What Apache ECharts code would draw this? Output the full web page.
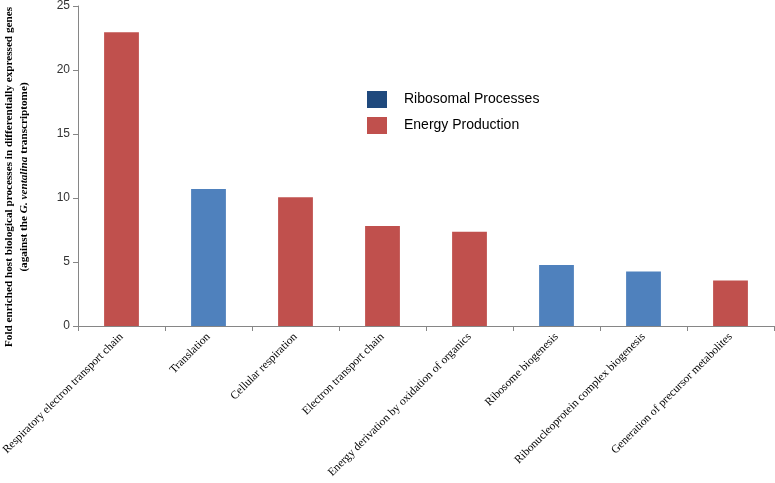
<!DOCTYPE html>
<html>
<head>
<meta charset="utf-8">
<script src="https://cdn.jsdelivr.net/npm/echarts@6/dist/echarts.min.js"></script>
<style>
  html, body { margin: 0; padding: 0; background: #fff; }
  #chart { width: 775px; height: 483px; }
</style>
</head>
<body>
<div id="chart"></div>
<script>
// --- Data ---
const categories = [
    'Respiratory electron transport chain',
    'Translation',
    'Cellular respiration',
    'Electron transport chain',
    'Energy derivation by oxidation of organics',
    'Ribosome biogenesis',
    'Ribonucleoprotein complex biogenesis',
    'Generation of precursor metabolites'
];
const foldValues = [22.95, 10.7, 10.05, 7.82, 7.37, 4.76, 4.26, 3.55];
const groups = ['E', 'R', 'E', 'E', 'E', 'R', 'R', 'E'];
const yTicks = [0, 5, 10, 15, 20, 25];

const RED = '#C0504D';
const BLUE = '#4F81BD';

const riboData = foldValues.map((v, i) => groups[i] === 'R' ? v : null);
const energyData = foldValues.map((v, i) => groups[i] === 'E' ? v : null);

// --- Render ---
const chart = echarts.init(document.getElementById('chart'));
chart.setOption({
    animation: false,
    grid: { left: 78, right: 1, top: 6, bottom: 157, outerBoundsMode: 'none', containLabel: false },
    legend: {
        orient: 'vertical',
        left: 362,
        top: 86,
        itemWidth: 20,
        itemHeight: 17,
        itemGap: 9,
        icon: 'rect',
        textStyle: {
            fontFamily: 'Liberation Sans',
            fontSize: 14,
            color: '#000',
            padding: [0, 0, 0, 12]
        },
        data: [
            { name: 'Ribosomal Processes', itemStyle: { color: '#1F497D' } },
            { name: 'Energy Production', itemStyle: { color: RED } }
        ]
    },
    xAxis: {
        type: 'category',
        data: categories,
        axisLine: { lineStyle: { color: '#868686' } },
        axisTick: { show: true, length: 5, lineStyle: { color: '#868686' } },
        axisLabel: {
            rotate: 45,
            interval: 0,
            margin: 9,
            fontFamily: 'Liberation Serif',
            fontSize: 11.5,
            color: '#000'
        }
    },
    yAxis: {
        type: 'value',
        min: 0,
        max: 25,
        interval: 5,
        name: '{b|Fold enriched host biological processes in differentially expressed genes}\n{b|(against the }{i|G. ventalina}{b| transcriptome)}',
        nameLocation: 'middle',
        nameRotate: 90,
        nameGap: 46,
        nameTextStyle: {
            padding: [0, 22, 0, 0],
            rich: {
                b: { fontFamily: 'Liberation Serif', fontWeight: 'bold', fontSize: 11.2, color: '#000', lineHeight: 15 },
                i: { fontFamily: 'Liberation Serif', fontWeight: 'bold', fontStyle: 'italic', fontSize: 11.2, color: '#000', lineHeight: 15 }
            }
        },
        splitLine: { show: false },
        axisLine: { show: true, lineStyle: { color: '#868686' } },
        axisTick: { show: true, length: 5, lineStyle: { color: '#868686' } },
        axisLabel: {
            fontFamily: 'Liberation Sans',
            fontSize: 12,
            color: '#333',
            margin: 8,
            customValues: yTicks
        }
    },
    series: [
        {
            name: 'Ribosomal Processes',
            type: 'bar',
            data: riboData,
            barWidth: '40%',
            barGap: '-100%',
            itemStyle: { color: BLUE }
        },
        {
            name: 'Energy Production',
            type: 'bar',
            data: energyData,
            barWidth: '40%',
            itemStyle: { color: RED }
        }
    ]
});
</script>
</body>
</html>
